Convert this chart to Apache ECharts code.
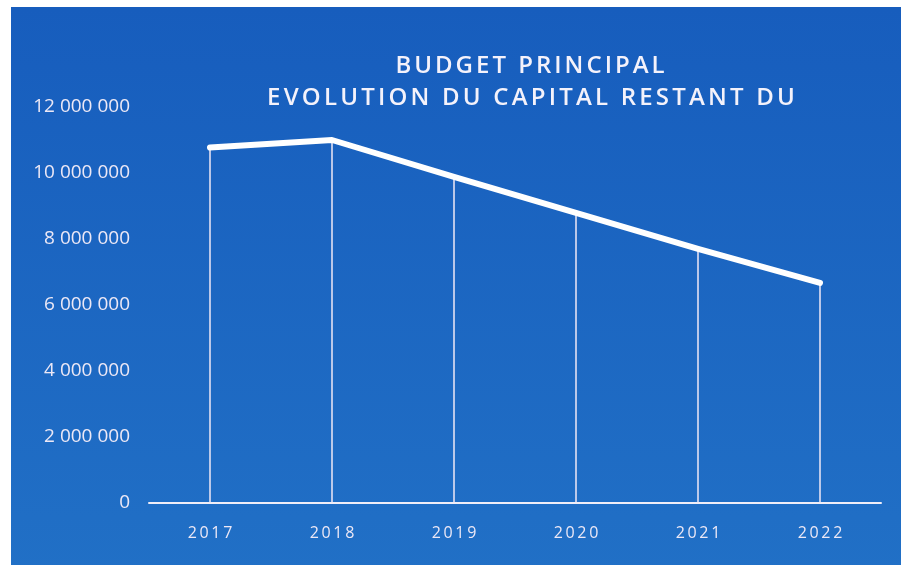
<!DOCTYPE html>
<html><head><meta charset="utf-8">
<script src="https://cdn.jsdelivr.net/npm/echarts@6/dist/echarts.min.js"></script>
<style>html,body{margin:0;padding:0;background:#fff}#c{width:901px;height:565px}</style>
</head><body><div id="c"></div>
<script>
const years = ['2017','2018','2019','2020','2021','2022'];
const capital = [10770000, 11000000, 9880000, 8790000, 7700000, 6670000];
const yTicks = [0, 2000000, 4000000, 6000000, 8000000, 10000000, 12000000];
const titleLines = ['BUDGET PRINCIPAL', 'EVOLUTION DU CAPITAL RESTANT DU'];

const fmt = v => String(v).replace(/\B(?=(\d{3})+(?!\d))/g, ' ');
const mctx = document.createElement('canvas').getContext('2d');
function spacedText(str, cx, cy, font, spacing, color) {
  mctx.font = font;
  const ws = [...str].map(ch => mctx.measureText(ch).width);
  const total = ws.reduce((a, b) => a + b, 0) + spacing * (ws.length - 1);
  let x = cx - total / 2;
  const out = [];
  [...str].forEach((ch, i) => {
    if (ch !== ' ') out.push({type: 'text', x: x, y: cy, z: 10,
      style: {text: ch, font: font, fill: color, textVerticalAlign: 'middle', textAlign: 'left'}});
    x += ws[i] + spacing;
  });
  return out;
}
const titleFont = '600 24px "Open Sans"';
const titleGraphics = [].concat(
  spacedText(titleLines[0], 530, 66, titleFont, 3.0, '#f4f2fb'),
  spacedText(titleLines[1], 531, 98, titleFont, 3.2, '#f4f2fb')
);

const chart = echarts.init(document.getElementById('c'));
chart.setOption({
  backgroundColor: '#ffffff',
  animation: false,
  graphic: [{
    type: 'rect', z: -10, shape: {x: 11, y: 7, width: 901, height: 570},
    style: {fill: {type: 'linear', x: 0, y: 0, x2: 0, y2: 1, colorStops: [
      {offset: 0, color: '#175dbd'}, {offset: 1, color: '#2170c6'}]}}
  }].concat(titleGraphics),
  grid: {left: 149, right: 20, top: 107, bottom: 62},
  xAxis: {
    type: 'category', data: years, boundaryGap: true,
    axisLine: {lineStyle: {color: '#f0eef8', width: 2}},
    axisTick: {show: false},
    axisLabel: {color: '#ece8f6', fontFamily: 'Open Sans', fontSize: 16, margin: 22,
      formatter: v => [...v].join('\u2009')}
  },
  yAxis: {
    type: 'value', min: 0, max: 12000000, interval: 2000000,
    axisLine: {show: false}, axisTick: {show: false},
    splitLine: {show: false},
    axisLabel: {color: '#ece8f6', fontFamily: 'Open Sans', fontSize: 19, margin: 19,
      formatter: v => yTicks.includes(v) ? fmt(v) : ''}
  },
  series: [
    {type: 'bar', data: capital, barWidth: 1.5, itemStyle: {color: '#f0e8f6'}, z: 1},
    {type: 'line', data: capital, symbol: 'none', lineStyle: {color: '#ffffff', width: 6, cap: 'round', join: 'round'}, z: 3}
  ]
});
</script></body></html>
